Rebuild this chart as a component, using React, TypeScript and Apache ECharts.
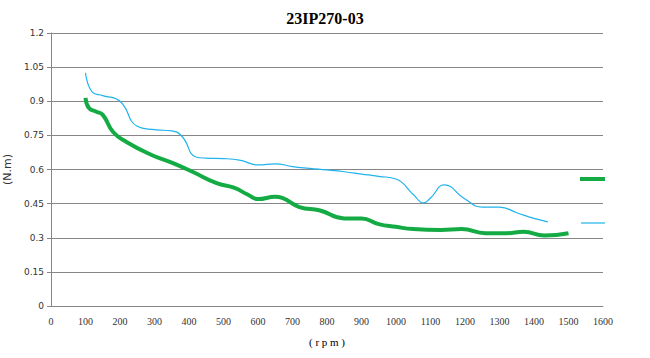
import React, { useEffect, useRef } from "react";
import * as echarts from "echarts";

const titleText = "23IP270-03";
const xName = "( r p m )";
const yName = "(N.m)";

const blueRpm = [100, 120, 150, 200, 250, 300, 350, 380, 420, 450, 500, 550, 600, 650, 700, 750, 800, 850, 900, 950, 1000, 1050, 1080, 1100, 1140, 1200, 1250, 1300, 1350, 1400, 1440];
const blueVal = [1.025, 0.94, 0.925, 0.9, 0.79, 0.775, 0.77, 0.745, 0.655, 0.65, 0.648, 0.64, 0.62, 0.625, 0.613, 0.605, 0.598, 0.59, 0.58, 0.57, 0.558, 0.49, 0.453, 0.475, 0.532, 0.47, 0.435, 0.435, 0.41, 0.385, 0.37];

const greenRpm = [100, 110, 130, 150, 180, 220, 290, 350, 410, 480, 530, 570, 600, 650, 670, 720, 780, 850, 900, 950, 1000, 1050, 1130, 1190, 1260, 1320, 1370, 1430, 1500];
const greenVal = [0.915, 0.87, 0.855, 0.84, 0.765, 0.72, 0.665, 0.63, 0.59, 0.54, 0.52, 0.49, 0.47, 0.48, 0.475, 0.435, 0.42, 0.385, 0.385, 0.36, 0.348, 0.338, 0.334, 0.338, 0.32, 0.32, 0.326, 0.31, 0.32];

const yTickLabels = ["0", "0.15", "0.3", "0.45", "0.6", "0.75", "0.9", "1.05", "1.2"];

export default function App() {
  const ref = useRef<HTMLDivElement>(null);
  useEffect(() => {
    if (!ref.current) return;
    const chart = echarts.init(ref.current, undefined, { renderer: "svg" });
    chart.setOption({
      animation: false,
      backgroundColor: "#ffffff",
      title: {
        text: titleText,
        left: "center",
        top: 5,
        textStyle: { fontFamily: "Liberation Serif, serif", fontWeight: "bold", fontSize: 16, color: "#000" },
      },
      grid: { left: 51, right: 47, top: 33, bottom: 52, containLabel: false, outerBoundsMode: "none" },
      xAxis: {
        type: "value",
        min: 0,
        max: 1600,
        interval: 100,
        name: xName,
        nameLocation: "middle",
        nameGap: 30,
        nameTextStyle: { fontFamily: "Liberation Serif, serif", fontSize: 11, color: "#000" },
        axisLine: { lineStyle: { color: "#868686" } },
        axisTick: { show: false },
        splitLine: { show: false },
        axisLabel: {
          margin: 10,
          fontFamily: "Liberation Serif, serif",
          fontSize: 10,
          color: "#333",
          formatter: (v: number) => String(v),
        },
      },
      yAxis: {
        type: "value",
        min: 0,
        max: 1.2,
        interval: 0.15,
        name: yName,
        nameLocation: "middle",
        nameGap: 29,
        nameTextStyle: { fontFamily: "DejaVu Sans, sans-serif", fontSize: 11, color: "#333" },
        axisLine: { show: true, lineStyle: { color: "#868686" } },
        axisTick: { show: true, length: 4, lineStyle: { color: "#868686" } },
        splitLine: { lineStyle: { color: "#868686", width: 1 } },
        axisLabel: {
          margin: 7,
          fontFamily: "DejaVu Sans, sans-serif",
          fontSize: 9,
          color: "#333",
          formatter: (v: number) => yTickLabels[Math.round(v / 0.15)] ?? String(v),
        },
      },
      series: [
        {
          type: "line",
          name: "torque-max",
          data: blueRpm.map((r, i) => [r, blueVal[i]]),
          smooth: 0.5,
          showSymbol: false,
          lineStyle: { color: "#1fb3ec", width: 1.2 },
          itemStyle: { color: "#1fb3ec" },
          z: 2,
        },
        {
          type: "line",
          name: "torque",
          data: greenRpm.map((r, i) => [r, greenVal[i]]),
          smooth: 0.5,
          showSymbol: false,
          lineStyle: { color: "#14ab45", width: 4 },
          itemStyle: { color: "#14ab45" },
          z: 3,
        },
      ],
      graphic: [
        { type: "line", shape: { x1: 580, y1: 179, x2: 605, y2: 179 }, style: { stroke: "#14ab45", lineWidth: 4 } },
        { type: "line", shape: { x1: 581, y1: 223, x2: 605, y2: 223 }, style: { stroke: "#1fb3ec", lineWidth: 1.2 } },
      ],
    });
    return () => chart.dispose();
  }, []);
  return <div ref={ref} style={{ width: 650, height: 358, position: "absolute", left: 0, top: 0 }} />;
}
